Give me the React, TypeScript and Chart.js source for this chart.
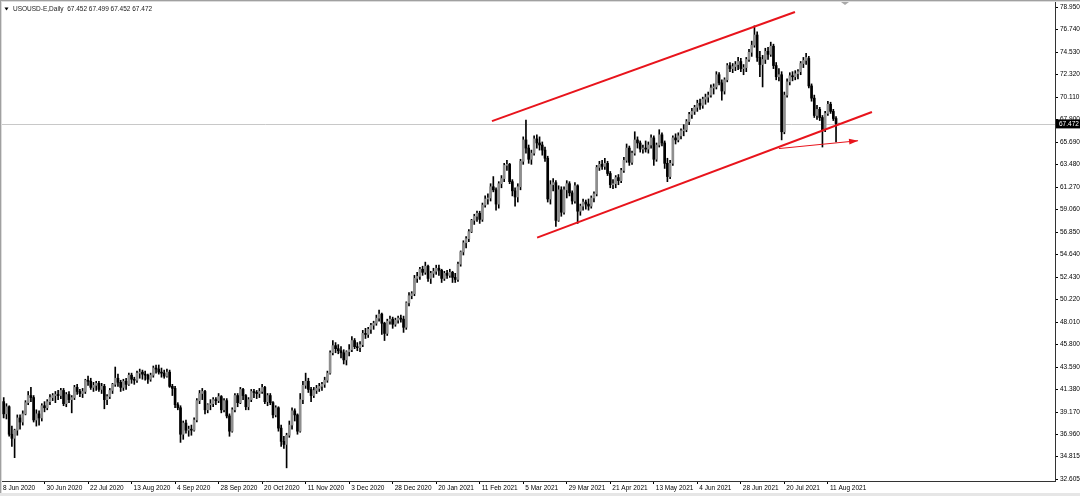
import React, { useEffect, useRef } from 'react';
import { Chart, registerables } from 'chart.js';

Chart.register(...registerables);

const HEADER_TEXT = 'USOUSD-E,Daily  67.452 67.499 67.452 67.472';
const DATE_LABELS = ['8 Jun 2020', '30 Jun 2020', '22 Jul 2020', '13 Aug 2020', '4 Sep 2020', '28 Sep 2020', '20 Oct 2020', '11 Nov 2020', '3 Dec 2020', '28 Dec 2020', '20 Jan 2021', '11 Feb 2021', '5 Mar 2021', '29 Mar 2021', '21 Apr 2021', '13 May 2021', '4 Jun 2021', '28 Jun 2021', '20 Jul 2021', '11 Aug 2021'];
const BARS_PER_DATE_LABEL = 16;
const PRICE_TICKS = [78.95, 76.74, 74.53, 72.32, 70.11, 67.9, 65.69, 63.48, 61.27, 59.06, 56.85, 54.64, 52.43, 50.22, 48.01, 45.8, 43.59, 41.38, 39.17, 36.96, 34.815, 32.605];
const LAST_PRICE = 67.472;

const OPEN = [
  38.6, 40.2, 39.0, 39.7, 37.0, 36.6, 37.4, 38.6, 38.2, 39.0,
  40.1, 40.8, 40.6, 38.4, 39.0, 38.6, 39.8, 39.6, 40.2, 40.6,
  40.8, 40.9, 40.8, 41.3, 40.0, 40.9, 40.4, 40.6, 41.6, 41.2,
  41.0, 41.2, 42.3, 42.2, 41.6, 41.8, 42.0, 41.4, 41.7, 40.4,
  40.7, 41.3, 41.9, 42.5, 42.1, 41.6, 42.2, 41.9, 42.8, 42.4,
  42.3, 43.0, 43.1, 42.9, 42.8, 42.4, 42.8, 43.5, 43.4, 43.1,
  43.0, 42.7, 43.1, 41.7, 41.5, 39.9, 39.6, 37.0, 38.1, 37.4,
  37.5, 37.4, 38.4, 40.3, 41.0, 41.2, 39.4, 39.9, 40.0, 40.4,
  40.3, 40.7, 39.4, 40.3, 38.8, 37.3, 39.4, 40.8, 40.1, 41.4,
  40.8, 39.7, 40.4, 41.2, 41.1, 41.0, 41.2, 41.6, 40.2, 40.8,
  40.1, 38.9, 39.6, 37.6, 36.3, 36.0, 36.9, 37.9, 39.3, 38.9,
  37.3, 40.4, 41.8, 42.2, 41.4, 40.8, 41.3, 41.5, 41.7, 41.9,
  42.3, 43.0, 45.0, 45.7, 45.4, 45.2, 45.0, 44.3, 45.1, 45.3,
  46.2, 45.6, 45.5, 45.8, 46.9, 46.8, 47.3, 47.7, 47.9, 48.4,
  48.8, 47.9, 46.9, 48.1, 48.3, 47.8, 48.2, 48.4, 48.3, 47.5,
  49.9, 50.6, 50.8, 52.3, 52.5, 53.2, 52.9, 53.5, 52.3, 52.8,
  53.0, 53.3, 53.1, 52.3, 52.8, 52.6, 52.9, 52.4, 52.2, 53.7,
  54.9, 55.8, 56.2, 56.9, 58.0, 58.4, 58.7, 58.1, 59.5, 60.1,
  60.2, 61.3, 61.0, 59.6, 61.6, 62.1, 63.4, 63.5, 61.8, 60.9,
  60.3, 61.3, 63.8, 65.9, 65.1, 64.0, 64.6, 66.0, 65.6, 65.4,
  64.9, 64.1, 60.1, 61.5, 61.7, 58.0, 61.0, 58.8, 61.0, 61.6,
  60.7, 59.9, 61.4, 58.9, 59.4, 59.8, 59.6, 59.4, 60.2, 60.6,
  63.2, 63.5, 63.3, 63.6, 62.6, 61.5, 61.6, 62.2, 61.9, 62.9,
  63.9, 65.1, 63.7, 64.6, 65.9, 65.6, 65.0, 65.1, 65.0, 65.4,
  66.1, 64.0, 65.4, 66.4, 65.6, 63.6, 62.3, 63.6, 66.1, 65.9,
  66.3, 66.8, 66.9, 67.7, 68.4, 68.7, 69.1, 69.5, 69.3, 69.9,
  70.1, 70.3, 71.0, 71.1, 72.3, 71.5, 70.7, 71.8, 73.2, 72.9,
  73.1, 73.3, 73.6, 72.9, 73.0, 73.8, 74.5, 75.2, 76.2, 74.0,
  73.3, 73.8, 74.6, 74.3, 75.1, 73.2, 72.1, 72.3, 66.7, 70.3,
  71.6, 72.2, 72.1, 72.4, 72.6, 73.4, 73.7, 73.9, 71.2, 70.0,
  68.3, 68.9, 68.1, 66.9, 68.5, 69.4, 68.7, 68.0, 67.452,
];
const HIGH = [
  40.8, 40.6, 40.0, 39.8, 37.8, 37.5, 38.9, 38.9, 39.3, 40.3,
  41.2, 41.6, 40.8, 39.4, 39.3, 40.0, 40.2, 40.4, 40.9, 41.0,
  41.2, 41.3, 41.5, 41.5, 41.1, 41.2, 40.8, 41.8, 41.9, 41.4,
  41.5, 42.4, 42.7, 42.5, 42.1, 42.2, 42.2, 42.0, 41.9, 40.9,
  41.5, 42.0, 43.6, 42.9, 42.3, 42.4, 42.5, 43.0, 43.0, 42.6,
  43.2, 43.4, 43.3, 43.2, 42.9, 43.0, 43.7, 43.8, 43.8, 43.5,
  43.3, 43.4, 43.3, 41.9, 41.7, 40.1, 39.8, 38.3, 38.4, 37.8,
  37.9, 38.6, 40.5, 41.3, 41.5, 41.3, 40.0, 40.4, 40.6, 40.6,
  41.0, 40.8, 40.5, 40.5, 39.0, 39.6, 41.0, 41.0, 41.6, 41.5,
  40.9, 40.6, 41.4, 41.4, 41.3, 41.5, 41.9, 41.7, 41.0, 41.0,
  40.2, 39.8, 39.7, 37.9, 36.8, 37.1, 38.3, 39.6, 39.5, 39.0,
  41.0, 42.2, 43.0, 42.5, 41.6, 41.6, 41.8, 42.0, 42.1, 42.6,
  43.2, 45.2, 46.2, 46.0, 45.8, 45.6, 45.3, 45.2, 45.8, 46.6,
  46.4, 46.0, 46.1, 47.2, 47.4, 47.5, 47.9, 48.1, 48.7, 49.2,
  48.9, 48.0, 48.3, 48.6, 48.5, 48.4, 48.6, 48.7, 48.6, 50.0,
  50.9, 51.0, 52.6, 52.9, 53.4, 53.5, 53.9, 53.6, 53.0, 53.3,
  53.6, 53.6, 53.2, 53.0, 53.1, 53.2, 53.0, 52.8, 53.9, 55.0,
  56.0, 56.4, 57.1, 58.1, 58.6, 58.9, 58.9, 59.7, 60.4, 60.6,
  61.6, 62.3, 61.2, 61.8, 62.4, 63.6, 63.9, 63.6, 62.0, 61.2,
  61.6, 64.0, 66.2, 67.85, 65.4, 64.9, 66.3, 66.4, 66.2, 65.7,
  65.2, 64.3, 61.9, 62.1, 61.9, 61.4, 61.3, 61.3, 61.9, 61.8,
  60.9, 61.7, 61.5, 59.6, 60.1, 60.0, 60.1, 60.4, 60.8, 63.4,
  63.8, 63.9, 64.1, 63.8, 62.8, 62.0, 62.4, 62.5, 63.1, 64.2,
  65.5, 65.3, 64.8, 66.7, 66.2, 65.8, 65.4, 65.8, 65.7, 66.4,
  66.3, 65.6, 66.9, 66.6, 65.8, 64.1, 63.9, 66.3, 66.5, 66.6,
  67.0, 67.4, 67.9, 68.6, 69.0, 69.3, 69.8, 69.9, 70.1, 70.4,
  70.6, 71.3, 71.4, 72.6, 72.5, 71.8, 72.0, 73.4, 73.5, 73.4,
  73.6, 74.0, 73.9, 73.3, 74.0, 74.8, 75.6, 77.1, 76.5, 74.6,
  74.2, 74.9, 75.0, 75.5, 75.3, 73.5, 72.9, 72.6, 70.6, 71.9,
  72.5, 72.6, 72.7, 72.8, 73.6, 74.0, 74.4, 74.1, 71.4, 70.3,
  69.3, 69.1, 68.3, 68.7, 69.7, 69.6, 68.9, 68.2, 67.499,
];
const LOW = [
  38.3, 38.6, 38.5, 36.8, 35.8, 34.7, 36.9, 37.5, 37.9, 38.9,
  39.9, 40.2, 38.2, 37.8, 37.9, 38.3, 39.2, 39.4, 39.9, 40.3,
  40.1, 40.4, 40.5, 39.8, 39.7, 40.1, 39.1, 40.4, 40.9, 40.7,
  40.6, 41.0, 41.8, 41.4, 41.2, 41.3, 41.2, 41.0, 39.5, 39.9,
  40.5, 41.0, 41.7, 41.7, 41.2, 41.3, 41.4, 41.8, 42.0, 41.9,
  42.1, 42.5, 42.4, 42.3, 42.0, 42.2, 42.6, 43.0, 42.9, 42.6,
  42.5, 42.6, 41.6, 40.8, 39.6, 39.4, 36.2, 36.5, 37.1, 36.8,
  36.9, 37.3, 38.2, 40.0, 40.4, 39.0, 39.1, 39.4, 39.7, 39.9,
  40.1, 39.1, 39.2, 38.6, 36.8, 37.2, 39.2, 39.7, 40.0, 40.4,
  39.4, 39.4, 40.2, 40.6, 40.5, 40.6, 41.0, 40.0, 39.8, 39.9,
  38.6, 38.7, 37.3, 35.8, 35.6, 33.7, 36.7, 37.5, 38.3, 37.0,
  37.2, 40.0, 41.5, 41.1, 40.2, 40.6, 41.0, 41.2, 41.3, 41.6,
  42.1, 42.9, 44.8, 45.0, 44.9, 44.5, 43.9, 43.8, 44.7, 45.1,
  45.4, 45.2, 45.1, 45.6, 46.4, 46.5, 46.9, 47.3, 47.7, 48.1,
  46.8, 46.2, 46.7, 47.8, 47.4, 47.6, 47.9, 48.0, 47.0, 47.3,
  49.6, 50.3, 50.6, 51.9, 52.2, 52.6, 52.7, 52.0, 51.8, 52.4,
  52.7, 52.6, 51.9, 52.1, 52.3, 52.4, 51.9, 51.9, 52.0, 53.5,
  54.6, 55.3, 55.9, 56.8, 57.6, 57.9, 57.7, 57.9, 59.3, 59.6,
  59.9, 60.8, 59.0, 59.2, 61.2, 61.8, 62.9, 61.6, 60.4, 59.4,
  59.8, 61.0, 63.5, 64.6, 63.6, 63.5, 64.4, 65.1, 64.9, 64.4,
  63.8, 59.8, 59.6, 60.9, 57.4, 57.9, 58.4, 58.6, 60.2, 60.4,
  59.6, 59.7, 57.7, 58.5, 59.0, 59.1, 59.0, 59.2, 59.8, 60.4,
  62.9, 63.0, 63.0, 62.4, 61.2, 61.1, 61.2, 61.5, 61.7, 62.7,
  63.7, 63.4, 63.5, 64.4, 65.1, 64.7, 64.6, 64.7, 64.6, 65.1,
  63.4, 63.8, 65.2, 65.3, 63.1, 61.8, 62.1, 63.4, 65.5, 65.7,
  66.0, 66.3, 66.7, 67.4, 68.0, 68.4, 68.7, 68.9, 69.0, 69.4,
  69.6, 70.1, 70.4, 70.9, 71.3, 69.8, 70.4, 71.6, 72.6, 72.5,
  72.7, 72.8, 72.6, 72.3, 72.6, 73.6, 74.1, 75.0, 73.6, 72.1,
  71.1, 73.4, 73.8, 74.1, 72.9, 71.8, 71.7, 65.9, 66.5, 70.1,
  71.3, 71.7, 71.8, 71.9, 72.3, 73.0, 73.3, 71.0, 69.7, 68.1,
  67.9, 67.8, 65.2, 66.7, 68.3, 68.5, 67.8, 65.7, 67.452,
];
const CLOSE = [
  40.2, 39.0, 39.7, 37.0, 36.6, 37.4, 38.6, 38.2, 39.0, 40.1,
  40.8, 40.6, 38.4, 39.0, 38.6, 39.8, 39.6, 40.2, 40.6, 40.8,
  40.9, 40.8, 41.3, 40.0, 40.9, 40.4, 40.6, 41.6, 41.2, 41.0,
  41.2, 42.3, 42.2, 41.6, 41.8, 42.0, 41.4, 41.7, 40.4, 40.7,
  41.3, 41.9, 42.5, 42.1, 41.6, 42.2, 41.9, 42.8, 42.4, 42.3,
  43.0, 43.1, 42.9, 42.8, 42.4, 42.8, 43.5, 43.4, 43.1, 43.0,
  42.7, 43.1, 41.7, 41.5, 39.9, 39.6, 37.0, 38.1, 37.4, 37.5,
  37.4, 38.4, 40.3, 41.0, 41.2, 39.4, 39.9, 40.0, 40.4, 40.3,
  40.7, 39.4, 40.3, 38.8, 37.3, 39.4, 40.8, 40.1, 41.4, 40.8,
  39.7, 40.4, 41.2, 41.1, 41.0, 41.2, 41.6, 40.2, 40.8, 40.1,
  38.9, 39.6, 37.6, 36.3, 36.0, 36.9, 37.9, 39.3, 38.9, 37.3,
  40.4, 41.8, 42.2, 41.4, 40.8, 41.3, 41.5, 41.7, 41.9, 42.3,
  43.0, 45.0, 45.7, 45.4, 45.2, 45.0, 44.3, 45.1, 45.3, 46.2,
  45.6, 45.5, 45.8, 46.9, 46.8, 47.3, 47.7, 47.9, 48.4, 48.8,
  47.9, 46.9, 48.1, 48.3, 47.8, 48.2, 48.4, 48.3, 47.5, 49.9,
  50.6, 50.8, 52.3, 52.5, 53.2, 52.9, 53.5, 52.3, 52.8, 53.0,
  53.3, 53.1, 52.3, 52.8, 52.6, 52.9, 52.4, 52.2, 53.7, 54.9,
  55.8, 56.2, 56.9, 58.0, 58.4, 58.7, 58.1, 59.5, 60.1, 60.2,
  61.3, 61.0, 59.6, 61.6, 62.1, 63.4, 63.5, 61.8, 60.9, 60.3,
  61.3, 63.8, 65.9, 65.1, 64.0, 64.6, 66.0, 65.6, 65.4, 64.9,
  64.1, 60.1, 61.5, 61.7, 58.0, 61.0, 58.8, 61.0, 61.6, 60.7,
  59.9, 61.4, 58.9, 59.4, 59.8, 59.6, 59.4, 60.2, 60.6, 63.2,
  63.5, 63.3, 63.6, 62.6, 61.5, 61.6, 62.2, 61.9, 62.9, 63.9,
  65.1, 63.7, 64.6, 65.9, 65.6, 65.0, 65.1, 65.0, 65.4, 66.1,
  64.0, 65.4, 66.4, 65.6, 63.6, 62.3, 63.6, 66.1, 65.9, 66.3,
  66.8, 66.9, 67.7, 68.4, 68.7, 69.1, 69.5, 69.3, 69.9, 70.1,
  70.3, 71.0, 71.1, 72.3, 71.5, 70.7, 71.8, 73.2, 72.9, 73.1,
  73.3, 73.6, 72.9, 73.0, 73.8, 74.5, 75.2, 76.2, 74.0, 73.3,
  73.8, 74.6, 74.3, 75.1, 73.2, 72.1, 72.3, 66.7, 70.3, 71.6,
  72.2, 72.1, 72.4, 72.6, 73.4, 73.7, 74.0, 71.2, 70.0, 68.3,
  68.9, 68.1, 66.9, 68.5, 69.4, 68.7, 68.0, 67.5, 67.472,
];

// Trend lines drawn by the user (bar index, price)
const UPPER_CHANNEL = [{ x: 180.5, y: 67.75 }, { x: 291.9, y: 78.46 }];
const LOWER_CHANNEL = [{ x: 197.1, y: 56.31 }, { x: 320.2, y: 68.64 }];
const TARGET_ARROW = [{ x: 286.0, y: 65.05 }, { x: 315.1, y: 65.82 }];

const W = 1080;
const H = 496;
const RED = '#e8141c';
const FONT_FAMILY = '"Liberation Sans", Arial, sans-serif';
const FONT_SIZE = 6.5;

const noScalePadding = (sc: any) => {
  sc.paddingTop = 0;
  sc.paddingBottom = 0;
  sc.paddingLeft = 0;
  sc.paddingRight = 0;
};

export default function App() {
  const ref = useRef<HTMLCanvasElement | null>(null);

  useEffect(() => {
    const canvas = ref.current;
    if (!canvas) return;
    const idx = CLOSE.map((_, i) => i);
    const wicks = idx.map((i) => ({ x: i, y: [LOW[i], HIGH[i]] }));
    const bodies = idx.map((i) => ({ x: i, y: [OPEN[i], CLOSE[i]] }));
    const bodyColors = idx.map((i) => (CLOSE[i] >= OPEN[i] ? '#8e8e8e' : '#000000'));

    const overlay = {
      id: 'mt4overlay',
      beforeDatasetsDraw(chart: any) {
        const { ctx, chartArea: a, scales } = chart;
        const py = Math.round(scales.y.getPixelForValue(LAST_PRICE)) + 0.5;
        ctx.save();
        ctx.strokeStyle = '#c8c8c8';
        ctx.lineWidth = 1;
        ctx.beginPath();
        ctx.moveTo(a.left, py);
        ctx.lineTo(a.right, py);
        ctx.stroke();
        ctx.restore();
      },
      afterDraw(chart: any) {
        const { ctx, chartArea: a, scales } = chart;
        const xs = scales.x;
        const ys = scales.y;
        ctx.save();
        // arrow head at the end of the thin line
        const x0 = xs.getPixelForValue(TARGET_ARROW[0].x);
        const y0 = ys.getPixelForValue(TARGET_ARROW[0].y);
        const x1 = xs.getPixelForValue(TARGET_ARROW[1].x);
        const y1 = ys.getPixelForValue(TARGET_ARROW[1].y);
        const ang = Math.atan2(y1 - y0, x1 - x0);
        const len = 9;
        const half = 3;
        const c = Math.cos(ang);
        const s = Math.sin(ang);
        ctx.fillStyle = RED;
        ctx.beginPath();
        ctx.moveTo(x1, y1);
        ctx.lineTo(x1 - len * c + half * s, y1 - len * s - half * c);
        ctx.lineTo(x1 - len * c - half * s, y1 - len * s + half * c);
        ctx.closePath();
        ctx.fill();

        // current price box
        const py = ys.getPixelForValue(LAST_PRICE);
        ctx.fillStyle = '#000';
        ctx.fillRect(a.right + 1, py - 4.5, W - a.right - 1, 9);
        ctx.fillStyle = '#fff';
        ctx.font = `${FONT_SIZE}px ${FONT_FAMILY}`;
        ctx.textBaseline = 'middle';
        ctx.textAlign = 'left';
        ctx.fillText(LAST_PRICE.toFixed(3), a.right + 4, py + 0.5);

        // header
        ctx.fillStyle = '#000';
        ctx.beginPath();
        ctx.moveTo(4.5, 7.5);
        ctx.lineTo(8.5, 7.5);
        ctx.lineTo(6.5, 10.5);
        ctx.closePath();
        ctx.fill();
        ctx.fillStyle = '#1a1a1a';
        ctx.fillText(HEADER_TEXT, 13, 9.5);

        // chart shift marker
        ctx.fillStyle = '#a8a8a8';
        ctx.beginPath();
        ctx.moveTo(841, 2);
        ctx.lineTo(849, 2);
        ctx.lineTo(845, 5);
        ctx.closePath();
        ctx.fill();

        // window frame
        ctx.fillStyle = '#a0a0a0';
        ctx.fillRect(0, 0, W, 1);
        ctx.fillRect(0, 0, 1, H);
        ctx.fillStyle = '#dcdcdc';
        ctx.fillRect(1, 1, W - 1, 1);
        ctx.fillRect(1, 1, 1, H - 1);
        ctx.fillStyle = '#e6e6e6';
        ctx.fillRect(0, H - 3, W, 3);
        ctx.restore();
      },
    };

    const chart = new Chart(canvas, {
      type: 'bar',
      data: {
        datasets: [
          {
            type: 'bar',
            data: bodies as any,
            backgroundColor: bodyColors,
            barThickness: 2,
            minBarLength: 1,
            grouped: false,
            order: 1,
          } as any,
          {
            type: 'bar',
            data: wicks as any,
            backgroundColor: '#000000',
            barThickness: 1,
            grouped: false,
            order: 2,
          } as any,
          {
            type: 'line',
            data: UPPER_CHANNEL as any,
            borderColor: RED,
            borderWidth: 2,
            pointRadius: 0,
            tension: 0,
            order: 0,
          } as any,
          {
            type: 'line',
            data: LOWER_CHANNEL as any,
            borderColor: RED,
            borderWidth: 2,
            pointRadius: 0,
            tension: 0,
            order: 0,
          } as any,
          {
            type: 'line',
            data: TARGET_ARROW as any,
            borderColor: RED,
            borderWidth: 1,
            pointRadius: 0,
            tension: 0,
            order: 0,
          } as any,
        ],
      },
      options: {
        responsive: false,
        animation: false,
        events: [],
        layout: { padding: { left: 2, top: 2, right: 0, bottom: 0 }, autoPadding: false } as any,
        plugins: { legend: { display: false }, tooltip: { enabled: false } },
        scales: {
          x: {
            type: 'linear',
            min: 0.368,
            max: 387.5,
            offset: false,
            bounds: 'data',
            afterBuildTicks: (sc: any) => {
              sc.ticks = DATE_LABELS.map((_, k) => ({ value: k * BARS_PER_DATE_LABEL }));
            },
            afterFit: (sc: any) => {
              sc.height = 15;
              noScalePadding(sc);
            },
            ticks: {
              autoSkip: false,
              maxRotation: 0,
              minRotation: 0,
              align: 'start',
              labelOffset: 2,
              padding: 0,
              color: '#000',
              font: { family: FONT_FAMILY, size: FONT_SIZE },
              callback: (v: any) => DATE_LABELS[Math.round(Number(v) / BARS_PER_DATE_LABEL)] ?? '',
            },
            grid: { drawOnChartArea: false, drawTicks: true, tickLength: 3, tickColor: '#000', offset: false },
            border: { display: true, color: '#333' },
          } as any,
          y: {
            type: 'linear',
            position: 'right',
            min: 32.409,
            max: 79.441,
            bounds: 'data',
            afterBuildTicks: (sc: any) => {
              sc.ticks = PRICE_TICKS.map((v) => ({ value: v }));
            },
            afterFit: (sc: any) => {
              sc.width = 25;
              noScalePadding(sc);
            },
            ticks: {
              autoSkip: false,
              padding: 2,
              color: '#000',
              font: { family: FONT_FAMILY, size: FONT_SIZE },
              callback: (v: any) => Number(v).toFixed(3),
            },
            grid: { drawOnChartArea: false, drawTicks: true, tickLength: 3, tickColor: '#000' },
            border: { display: true, color: '#333' },
          } as any,
        },
      },
      plugins: [overlay as any],
    });
    return () => chart.destroy();
  }, []);

  return (
    <div style={{ position: 'fixed', left: 0, top: 0, width: W, height: H, background: '#fff' }}>
      <canvas ref={ref} width={W} height={H} style={{ display: 'block', width: W, height: H }} />
    </div>
  );
}
